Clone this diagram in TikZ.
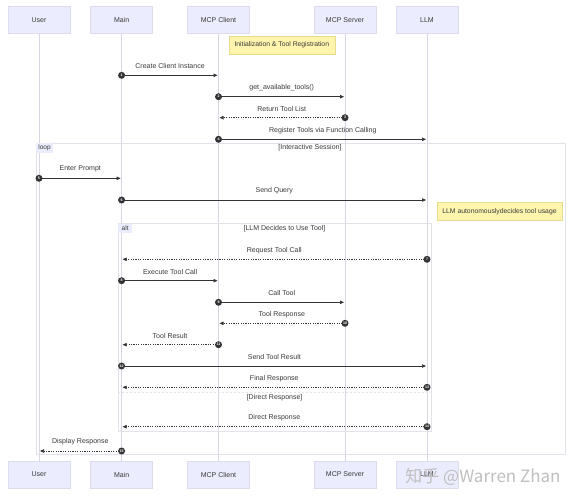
\documentclass[tikz,border=0pt]{standalone}
\usepackage{fontspec}
\setmainfont{Liberation Sans}
\newfontfamily\cjkfont{Noto Sans CJK SC}
\usetikzlibrary{arrows.meta,calc}
\definecolor{actfill}{HTML}{ECECFF}
\definecolor{actline}{HTML}{DCDCEE}
\definecolor{lifecol}{HTML}{D6D6E4}
\definecolor{txtcol}{HTML}{3A3A3A}
\definecolor{linecol}{HTML}{333333}
\definecolor{framecol}{HTML}{E2E2EA}
\definecolor{notefill}{HTML}{FFF5AD}
\definecolor{noteline}{HTML}{E6DC8E}
\newcommand\msgline[6]{%
  \coordinate (p#1) at (#2,#3);
  \draw[#5] (p#1) -- node[lbl]{#6} (p#1 -| #4);
  \node[num] (c#1) at (p#1) {#1};}
\begin{document}
\begin{tikzpicture}[x=1pt,y=-1pt,
  font=\fontsize{7}{8}\selectfont,
  actor/.style={draw=actline, fill=actfill, line width=0.5pt, minimum width=62pt, minimum height=26.6pt, inner sep=0pt, text=txtcol},
  life/.style={draw=lifecol, line width=0.7pt},
  msgsolid/.style={draw=linecol, line width=0.7pt, -{Triangle[length=4pt,width=3.4pt]}, shorten >=1pt},
  msgdot/.style={msgsolid, dash pattern=on 1.2pt off 1.2pt},
  lbl/.style={midway, yshift=9pt, text=txtcol, inner sep=0pt},
  num/.style={circle, fill=linecol, inner sep=0pt, minimum size=7pt, text=white, font=\fontsize{3.6}{4}\selectfont\bfseries},
  framebox/.style={draw=framecol, line width=0.7pt, inner sep=0pt, anchor=north west},
  tabbox/.style={fill=actfill, anchor=north west, inner sep=2.2pt, text=txtcol, font=\fontsize{6.5}{7}\selectfont, minimum height=9.5pt},
  notebox/.style={draw=noteline, fill=notefill, line width=0.6pt, inner sep=0pt, text=txtcol, font=\fontsize{6.8}{8}\selectfont},
  seclbl/.style={text=txtcol, inner sep=0pt}
]
\useasboundingbox (0,0) rectangle (577,500);
\fill[white] (0,0) rectangle (577,500);

% participants
\node[actor] (userT) at (39,20) {User};
\node[actor] (mainT) at (121.6,20) {Main};
\node[actor] (cliT) at (218.5,20) {MCP Client};
\node[actor] (srvT) at (345,20) {MCP Server};
\node[actor] (llmT) at (427,20) {LLM};
\node[actor] (userB) at (39,474.5) {User};
\node[actor] (mainB) at (121.6,474.5) {Main};
\node[actor] (cliB) at (218.5,474.5) {MCP Client};
\node[actor] (srvB) at (345,474.5) {MCP Server};
\node[actor] (llmB) at (427,474.5) {LLM};
\foreach \p in {user,main,cli,srv,llm}{\draw[life] (\p T.south) -- (\p B.north);}

% frames
\node[framebox, minimum width=529pt, minimum height=311.3pt] (loopbox) at (36,142.7) {};
\node[tabbox] (looptab) at (loopbox.north west) {loop};
\node[seclbl] (loopcond) at (310,147.3) {[Interactive Session]};
\node[framebox, minimum width=313.6pt, minimum height=207.4pt] (altbox) at (117.8,223.3) {};
\node[tabbox] (alttab) at (altbox.north west) {\hspace*{1.5pt}alt\hspace*{1.5pt}};
\node[seclbl] (altcond) at (284.5,228.3) {[LLM Decides to Use Tool]};
\coordinate (sepL) at (117.8,392);
\coordinate (sepR) at (431.4,392);
\draw[draw=framecol, line width=0.7pt, dash pattern=on 2pt off 2pt] (sepL) -- (sepR);
\node[seclbl, fill=white, inner sep=1pt] (altelse) at (274.6,397.7) {[Direct Response]};

% notes
\node[notebox, minimum width=106pt, minimum height=18pt] (initnote) at (281.8,45) {Initialization \& Tool Registration};
\node[notebox, minimum width=125pt, minimum height=18pt] (llmnote) at (499.5,211.7) {LLM autonomouslydecides tool usage};

% messages
\msgline{1}{121.6}{75.3}{cliT}{msgsolid}{Create Client Instance}
\msgline{2}{218.5}{96.7}{srvT}{msgsolid}{get\_available\_tools()}
\msgline{3}{345}{117.7}{cliT}{msgdot}{Return Tool List}
\msgline{4}{218.5}{139.3}{llmT}{msgsolid}{Register Tools via Function Calling}
\msgline{5}{39}{178.3}{mainT}{msgsolid}{Enter Prompt}
\msgline{6}{121.6}{200}{llmT}{msgsolid}{Send Query}
\msgline{7}{427}{259.3}{mainT}{msgdot}{Request Tool Call}
\msgline{8}{121.6}{280.7}{cliT}{msgsolid}{Execute Tool Call}
\msgline{9}{218.5}{302.3}{srvT}{msgsolid}{Call Tool}
\msgline{10}{345}{323.3}{cliT}{msgdot}{Tool Response}
\msgline{11}{218.5}{344.7}{mainT}{msgdot}{Tool Result}
\msgline{12}{121.6}{366}{llmT}{msgsolid}{Send Tool Result}
\msgline{13}{427}{387.3}{mainT}{msgdot}{Final Response}
\msgline{14}{427}{426.7}{mainT}{msgdot}{Direct Response}
\msgline{15}{121.6}{451}{userT}{msgdot}{Display Response}

% watermark
\node[text=black!25, inner sep=0pt, font=\cjkfont\fontsize{17}{19}\selectfont] (wmark) at (483,477) {知乎 @Warren Zhan};
\end{tikzpicture}
\end{document}
